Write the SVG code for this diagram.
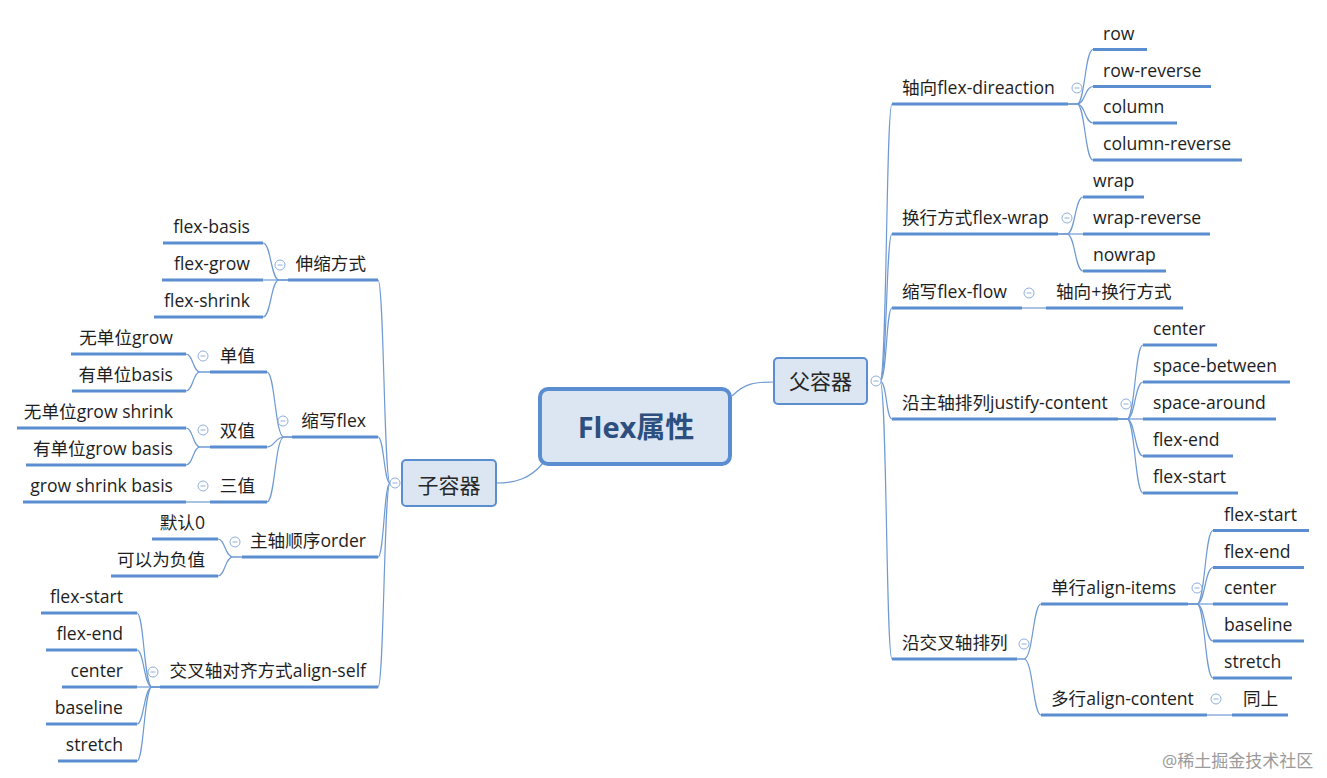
<svg xmlns="http://www.w3.org/2000/svg" xmlns:xlink="http://www.w3.org/1999/xlink" width="1327" height="778" viewBox="0 0 1327 778">
<style>
.u{stroke:#5b8ed0;stroke-width:3;fill:none}
.c{stroke:#6e9ad4;stroke-width:1.2;fill:none}
.t{font-family:"Open Sans","Noto Sans CJK SC",sans-serif;font-size:17.6px;fill:#1e1e1e}
.e{text-anchor:end}
.mk circle{fill:#fff;stroke:#8eafdc;stroke-width:1}
.mk line{stroke:#8eafdc;stroke-width:1}
.box{fill:#dce6f2;stroke:#5b8ed0;stroke-width:2}
.bt{font-family:"Noto Sans CJK SC",sans-serif;font-size:21px;fill:#262626;text-anchor:middle}
</style>
<defs>
<g id="m" class="mk"><circle r="5"/><line x1="-2.5" y1="0" x2="2.5" y2="0"/></g>
</defs>
<rect width="1327" height="778" fill="#fff"/>
<g id="connectors">
<path class="c" d="M732 396 C745 383 755 382 774 382"/>
<path class="c" d="M543 463 C530 479 515 483 496 483"/>
<path class="c" d="M880 381 C887 381 886 104 892 104"/>
<path class="c" d="M880 381 C887 381 886 234 892 234"/>
<path class="c" d="M880 381 C887 381 886 308 892 308"/>
<path class="c" d="M880 381 C887 381 886 419 892 419"/>
<path class="c" d="M880 381 C887 381 886 659 892 659"/>
<path class="c" d="M1068 104 H1077 C1085 104 1085 49.5 1093 49.5"/>
<path class="c" d="M1068 104 H1077 C1085 104 1085 86.5 1093 86.5"/>
<path class="c" d="M1068 104 H1077 C1085 104 1085 123 1093 123"/>
<path class="c" d="M1068 104 H1077 C1085 104 1085 160 1093 160"/>
<path class="c" d="M1058 234 H1067 C1075 234 1075 197 1083 197"/>
<path class="c" d="M1058 234 H1083"/>
<path class="c" d="M1058 234 H1067 C1075 234 1075 271 1083 271"/>
<path class="c" d="M1022 308 H1046"/>
<path class="c" d="M1118 419 H1127 C1135 419 1135 345 1143 345"/>
<path class="c" d="M1118 419 H1127 C1135 419 1135 382 1143 382"/>
<path class="c" d="M1118 419 H1143"/>
<path class="c" d="M1118 419 H1127 C1135 419 1135 456 1143 456"/>
<path class="c" d="M1118 419 H1127 C1135 419 1135 493 1143 493"/>
<path class="c" d="M1017 659 H1024 C1033 659 1033 604 1041 604"/>
<path class="c" d="M1017 659 H1024 C1033 659 1033 715 1041 715"/>
<path class="c" d="M1188 604 H1197 C1205 604 1205 530.5 1213 530.5"/>
<path class="c" d="M1188 604 H1197 C1205 604 1205 567.5 1213 567.5"/>
<path class="c" d="M1188 604 H1213"/>
<path class="c" d="M1188 604 H1197 C1205 604 1205 641 1213 641"/>
<path class="c" d="M1188 604 H1197 C1205 604 1205 678 1213 678"/>
<path class="c" d="M1207 715 H1232"/>
<path class="c" d="M390 483 C384 483 384 280 378 280"/>
<path class="c" d="M390 483 C384 483 384 437 378 437"/>
<path class="c" d="M390 483 C384 483 384 557 378 557"/>
<path class="c" d="M390 483 C384 483 384 687 378 687"/>
<path class="c" d="M288 280 H279 C271 280 271 243 263 243"/>
<path class="c" d="M288 280 H263"/>
<path class="c" d="M288 280 H279 C271 280 271 317 263 317"/>
<path class="c" d="M292 437 H284 C275 437 275 372 267 372"/>
<path class="c" d="M292 437 H284 C275 437 275 447 267 447"/>
<path class="c" d="M292 437 H284 C275 437 275 502 267 502"/>
<path class="c" d="M210 372 H200 C193 372 193 354 186 354"/>
<path class="c" d="M210 372 H200 C193 372 193 391 186 391"/>
<path class="c" d="M210 447 H200 C193 447 193 428 186 428"/>
<path class="c" d="M210 447 H200 C193 447 193 465 186 465"/>
<path class="c" d="M210 502 H186"/>
<path class="c" d="M242 557 H233 C225 557 225 539 218 539"/>
<path class="c" d="M242 557 H233 C225 557 225 576 218 576"/>
<path class="c" d="M160 687 H152 C144 687 144 613 137 613"/>
<path class="c" d="M160 687 H152 C144 687 144 650 137 650"/>
<path class="c" d="M160 687 H137"/>
<path class="c" d="M160 687 H152 C144 687 144 724 137 724"/>
<path class="c" d="M160 687 H152 C144 687 144 761 137 761"/>
</g>
<g id="root">
<rect x="540" y="389" width="190" height="75" rx="8" fill="#dce6f2" stroke="#5b8ed0" stroke-width="4"/>
<text x="636" y="438" font-family="'Open Sans','Noto Sans CJK SC',sans-serif" font-size="29" font-weight="bold" fill="#2d4f7f" text-anchor="middle">Flex属性</text>
</g>
<g id="parent">
<rect class="box" x="774" y="358" width="93" height="46" rx="4"/>
<text class="bt" x="820.5" y="389">父容器</text>
<use href="#m" x="876" y="381"/>
</g>
<g id="child">
<rect class="box" x="402" y="460" width="94" height="46" rx="4"/>
<text class="bt" x="449" y="493">子容器</text>
<use href="#m" x="395" y="483"/>
</g>
<g id="r-direction"><path class="u" d="M892 104 H1068"/><text class="t" x="902" y="94">轴向flex-direaction</text><use href="#m" x="1077" y="88"/></g>
<g id="r-row"><path class="u" d="M1093 49.5 H1147"/><text class="t" x="1103" y="39.5">row</text></g>
<g id="r-row-reverse"><path class="u" d="M1093 86.5 H1211"/><text class="t" x="1103" y="76.5">row-reverse</text></g>
<g id="r-column"><path class="u" d="M1093 123 H1177"/><text class="t" x="1103" y="113">column</text></g>
<g id="r-column-reverse"><path class="u" d="M1093 160 H1242"/><text class="t" x="1103" y="150">column-reverse</text></g>
<g id="r-wrap-mode"><path class="u" d="M892 234 H1058"/><text class="t" x="902" y="224">换行方式flex-wrap</text><use href="#m" x="1067" y="218"/></g>
<g id="r-wrap"><path class="u" d="M1083 197 H1144"/><text class="t" x="1093" y="187">wrap</text></g>
<g id="r-wrap-reverse"><path class="u" d="M1083 234 H1210"/><text class="t" x="1093" y="224">wrap-reverse</text></g>
<g id="r-nowrap"><path class="u" d="M1083 271 H1166"/><text class="t" x="1093" y="261">nowrap</text></g>
<g id="r-flow"><path class="u" d="M892 308 H1022"/><text class="t" x="902" y="298">缩写flex-flow</text><use href="#m" x="1029" y="293"/></g>
<g id="r-flow-val"><path class="u" d="M1046 308 H1183"/><text class="t" x="1056" y="298">轴向+换行方式</text></g>
<g id="r-justify"><path class="u" d="M892 419 H1118"/><text class="t" x="902" y="409">沿主轴排列justify-content</text><use href="#m" x="1126" y="404"/></g>
<g id="r-j-center"><path class="u" d="M1143 345 H1217"/><text class="t" x="1153" y="335">center</text></g>
<g id="r-j-between"><path class="u" d="M1143 382 H1290"/><text class="t" x="1153" y="372">space-between</text></g>
<g id="r-j-around"><path class="u" d="M1143 419 H1276"/><text class="t" x="1153" y="409">space-around</text></g>
<g id="r-j-end"><path class="u" d="M1143 456 H1233"/><text class="t" x="1153" y="446">flex-end</text></g>
<g id="r-j-start"><path class="u" d="M1143 493 H1238"/><text class="t" x="1153" y="483">flex-start</text></g>
<g id="r-cross"><path class="u" d="M892 659 H1017"/><text class="t" x="902" y="649">沿交叉轴排列</text><use href="#m" x="1024" y="644"/></g>
<g id="r-align-items"><path class="u" d="M1041 604 H1188"/><text class="t" x="1051" y="594">单行align-items</text><use href="#m" x="1197" y="588"/></g>
<g id="r-ai-start"><path class="u" d="M1213 530.5 H1309"/><text class="t" x="1224" y="520.5">flex-start</text></g>
<g id="r-ai-end"><path class="u" d="M1213 567.5 H1304"/><text class="t" x="1224" y="557.5">flex-end</text></g>
<g id="r-ai-center"><path class="u" d="M1213 604 H1288"/><text class="t" x="1224" y="594">center</text></g>
<g id="r-ai-baseline"><path class="u" d="M1213 641 H1304"/><text class="t" x="1224" y="631">baseline</text></g>
<g id="r-ai-stretch"><path class="u" d="M1213 678 H1292"/><text class="t" x="1224" y="668">stretch</text></g>
<g id="r-align-content"><path class="u" d="M1041 715 H1207"/><text class="t" x="1051" y="705">多行align-content</text><use href="#m" x="1216" y="699"/></g>
<g id="r-ac-same"><path class="u" d="M1232 715 H1288"/><text class="t" x="1243" y="705">同上</text></g>
<g id="l-flex-mode"><path class="u" d="M288 280 H378"/><text class="t e" x="366" y="270">伸缩方式</text><use href="#m" x="280" y="265"/></g>
<g id="l-basis"><path class="u" d="M163 243 H263"/><text class="t e" x="250" y="233">flex-basis</text></g>
<g id="l-grow"><path class="u" d="M162 280 H263"/><text class="t e" x="250" y="270">flex-grow</text></g>
<g id="l-shrink"><path class="u" d="M154 317 H263"/><text class="t e" x="250" y="307">flex-shrink</text></g>
<g id="l-flex"><path class="u" d="M292 437 H378"/><text class="t e" x="366" y="427">缩写flex</text><use href="#m" x="283" y="421"/></g>
<g id="l-single"><path class="u" d="M210 372 H267"/><text class="t e" x="255" y="362">单值</text><use href="#m" x="203" y="356"/></g>
<g id="l-s1"><path class="u" d="M71 354 H186"/><text class="t e" x="173" y="344">无单位grow</text></g>
<g id="l-s2"><path class="u" d="M72 391 H186"/><text class="t e" x="173" y="381">有单位basis</text></g>
<g id="l-double"><path class="u" d="M210 447 H267"/><text class="t e" x="255" y="437">双值</text><use href="#m" x="203" y="430"/></g>
<g id="l-d1"><path class="u" d="M17 428 H186"/><text class="t e" x="173" y="418">无单位grow shrink</text></g>
<g id="l-d2"><path class="u" d="M26 465 H186"/><text class="t e" x="173" y="455">有单位grow basis</text></g>
<g id="l-triple"><path class="u" d="M210 502 H267"/><text class="t e" x="255" y="492">三值</text><use href="#m" x="203" y="486"/></g>
<g id="l-t1"><path class="u" d="M23 502 H186"/><text class="t e" x="173" y="492">grow shrink basis</text></g>
<g id="l-order"><path class="u" d="M242 557 H378"/><text class="t e" x="366" y="547">主轴顺序order</text><use href="#m" x="235" y="542"/></g>
<g id="l-o1"><path class="u" d="M152 539 H218"/><text class="t e" x="205" y="529">默认0</text></g>
<g id="l-o2"><path class="u" d="M111 576 H218"/><text class="t e" x="205" y="566">可以为负值</text></g>
<g id="l-align-self"><path class="u" d="M160 687 H378"/><text class="t e" x="366" y="677">交叉轴对齐方式align-self</text><use href="#m" x="153" y="672"/></g>
<g id="l-as1"><path class="u" d="M41 613 H137"/><text class="t e" x="123" y="603">flex-start</text></g>
<g id="l-as2"><path class="u" d="M46 650 H137"/><text class="t e" x="123" y="640">flex-end</text></g>
<g id="l-as3"><path class="u" d="M62 687 H137"/><text class="t e" x="123" y="677">center</text></g>
<g id="l-as4"><path class="u" d="M46 724 H137"/><text class="t e" x="123" y="714">baseline</text></g>
<g id="l-as5"><path class="u" d="M58 761 H137"/><text class="t e" x="123" y="751">stretch</text></g>
<text x="1162" y="767" font-family="'Open Sans','Noto Sans CJK SC',sans-serif" font-size="17" fill="#9a9a9a">@稀土掘金技术社区</text>
</svg>
